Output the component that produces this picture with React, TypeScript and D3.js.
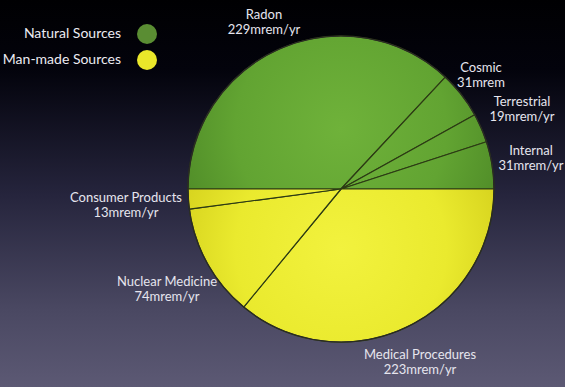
import React from "react";
import * as d3 from "d3";

// ---- data ----
const categories = ["Radon", "Cosmic", "Terrestrial", "Internal", "Medical Procedures", "Nuclear Medicine", "Consumer Products"];
const values = [229, 31, 19, 31, 223, 74, 13];
const valueLabels = ["229mrem/yr", "31mrem", "19mrem/yr", "31mrem/yr", "223mrem/yr", "74mrem/yr", "13mrem/yr"];
const sourceGroup = ["natural", "natural", "natural", "natural", "man", "man", "man"];
const legendLabels = ["Natural Sources", "Man-made Sources"];
const legendKeys = ["natural", "man"];

// ---- layout (not data) ----
const W = 565, H = 387;
const CX = 341, CY = 189, R = 153;
const labelPos: Record<string, [number, number]> = {
  "Radon": [264, 19],
  "Cosmic": [481, 72],
  "Terrestrial": [522, 106],
  "Internal": [531, 155],
  "Consumer Products": [126, 202],
  "Nuclear Medicine": [167, 286],
  "Medical Procedures": [420, 359],
};
const FONT = "Lato, 'Open Sans', sans-serif";

export default function App() {
  const pie = d3.pie<number>().sort(null).startAngle(-Math.PI / 2).endAngle((3 * Math.PI) / 2);
  const arcs = pie(values);
  const arc = d3.arc<d3.PieArcDatum<number>>().innerRadius(0).outerRadius(R);
  const fillFor = (g: string) => (g === "natural" ? "url(#gGreen)" : "url(#gYellow)");

  return (
    <svg width={W} height={H} style={{ position: "absolute", left: 0, top: 0 }} fontFamily={FONT}>
      <defs>
        <linearGradient id="bg" x1="0" y1="0" x2="0" y2="1">
          <stop offset="0" stopColor="#000002" />
          <stop offset="0.18" stopColor="#03030c" />
          <stop offset="0.5" stopColor="#25243c" />
          <stop offset="0.8" stopColor="#4a4862" />
          <stop offset="1" stopColor="#5c5974" />
        </linearGradient>
        <radialGradient id="gGreen" cx={0} cy={-60} r={R * 1.15} gradientUnits="userSpaceOnUse">
          <stop offset="0" stopColor="#6fb23a" />
          <stop offset="0.6" stopColor="#62a432" />
          <stop offset="1" stopColor="#4e8a27" />
        </radialGradient>
        <radialGradient id="gYellow" cx={0} cy={60} r={R * 1.15} gradientUnits="userSpaceOnUse">
          <stop offset="0" stopColor="#f2f23e" />
          <stop offset="0.6" stopColor="#eaea2e" />
          <stop offset="1" stopColor="#d4d01c" />
        </radialGradient>
      </defs>
      <rect x={0} y={0} width={W} height={H} fill="url(#bg)" />

      {/* legend */}
      {legendLabels.map((t, i) => (
        <g key={t}>
          <text x={121} y={38 + i * 26} textAnchor="end" fill="#ecebf2" fontSize={14}>{t}</text>
          <circle cx={147} cy={34 + i * 26} r={10} fill={legendKeys[i] === "natural" ? "#5a8d33" : "#eae72a"} />
        </g>
      ))}

      {/* pie */}
      <g transform={`translate(${CX},${CY})`}>
        {arcs.map((a, i) => (
          <path key={categories[i]} d={arc(a) || ""} fill={fillFor(sourceGroup[i])} stroke="#2c3a14" strokeWidth={1.2} strokeLinejoin="round" />
        ))}
        <circle r={R} fill="none" stroke="#2a2a26" strokeWidth={1.2} />
      </g>

      {/* labels */}
      {categories.map((c, i) => {
        const [x, y] = labelPos[c];
        return (
          <text key={c} x={x} y={y} textAnchor="middle" fill="#e6e5ee" fontSize={13}>
            <tspan x={x} dy={0}>{c}</tspan>
            <tspan x={x} dy={15}>{valueLabels[i]}</tspan>
          </text>
        );
      })}
    </svg>
  );
}
